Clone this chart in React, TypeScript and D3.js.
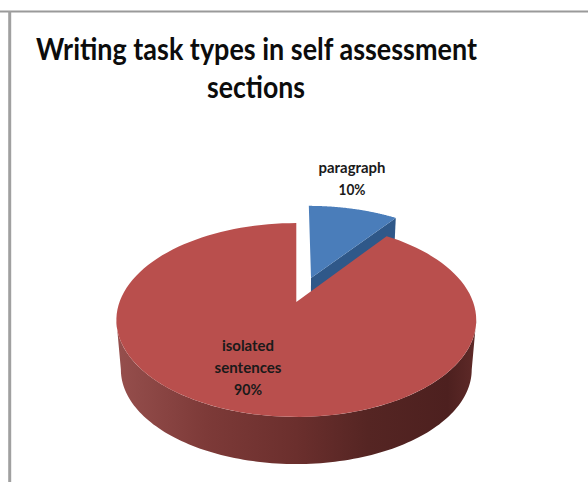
import React from "react";
import * as d3 from "d3";

const categories = ["paragraph", "isolated sentences"];
const shares = [10, 90];
const sliceLabels = [["paragraph", "10%"], ["isolated", "sentences", "90%"]];
const labelWidths = [[67, 27], [52, 67, 28]];
const titleLines = ["Writing task types in self assessment", "sections"];
const titleWidths = [441, 98];
const topColors = ["#4a7dba", "#b94f4d"];
const FONT = "Lato, 'Open Sans', sans-serif";

const W = 588, H = 482;
const cx = 296.3, cy = 302, R = 176.8, Rs = 93.6, k = 0.1856;
const explode = [0.283, 0];
const baseScale = 0.975, baseY = 352;

const arcs = d3.pie<number>().sort(null).startAngle(0).endAngle(2 * Math.PI)(shares);

type P = [number, number];
function ground(theta: number, r: number, off: number, mid: number): [number, number] {
  return [r * Math.sin(theta) + off * Math.sin(mid), r * Math.cos(theta) + off * Math.cos(mid)];
}
function top(u: number, v: number): P {
  const d = 1 + k * v;
  return [cx + (R * u) / d, cy - (Rs * v) / d];
}
function bottom(u: number, v: number): P {
  const d = 1 + k * v;
  return [cx + (baseScale * R * u) / d, baseY - (baseScale * Rs * v) / d];
}
const line = d3.line<P>();
function samples(a: number, b: number): number[] {
  return d3.range(0, 121).map((i) => d3.interpolateNumber(a, b)(i / 120));
}
function faceOf(i: number, proj: (u: number, v: number) => P): string {
  const a = arcs[i];
  const mid = (a.startAngle + a.endAngle) / 2;
  const apex = ground(0, 0, explode[i], mid);
  const pts = [proj(apex[0], apex[1]), ...samples(a.startAngle, a.endAngle).map((t) => {
    const g = ground(t, 1, explode[i], mid);
    return proj(g[0], g[1]);
  })];
  return line(pts) + "Z";
}
function blueCut(): string {
  const a = arcs[0];
  const mid = (a.startAngle + a.endAngle) / 2;
  const ap = ground(0, 0, explode[0], mid);
  const e = ground(a.endAngle, 1, explode[0], mid);
  return line([top(ap[0], ap[1]), top(e[0], e[1]), bottom(e[0], e[1]), bottom(ap[0], ap[1])]) + "Z";
}
function redWall(): string {
  const t0 = Math.acos(-k);
  const t1 = 2 * Math.PI - t0;
  const ts = samples(t0, t1);
  const upper = ts.map((t) => top(Math.sin(t), Math.cos(t)));
  const lower = ts.slice().reverse().map((t) => bottom(Math.sin(t), Math.cos(t)));
  return line([...upper, ...lower]) + "Z";
}
const wallStops: [number, string][] = [
  [0, "#5f2a28"], [0.08, "#4d201f"], [0.3, "#552523"], [0.5, "#6b2f2d"], [0.75, "#7d3a38"], [1, "#964f4d"],
];

export default function App() {
  return (
    <svg width={W} height={H} style={{ position: "fixed", left: 0, top: 0, background: "#fff" }}>
      <defs>
        <linearGradient id="wall" x1="1" x2="0" y1="0" y2="0">
          {wallStops.map(([o, c]) => <stop key={o} offset={o} stopColor={c} />)}
        </linearGradient>
      </defs>
      <line x1={0} x2={W} y1={11.5} y2={11.5} stroke="#9a9a9a" strokeWidth={2} />
      <line x1={9.7} x2={9.7} y1={11} y2={H} stroke="#a0a0a0" strokeWidth={3} />
      {titleLines.map((t, i) => (
        <text key={t} x={i === 0 ? 256.5 : 256} y={i === 0 ? 60 : 98} textAnchor="middle" fontFamily={FONT} fontWeight={700} fontSize={30} textLength={titleWidths[i]} lengthAdjust="spacingAndGlyphs" fill="#0c0c0c">{t}</text>
      ))}
      <path d={blueCut()} fill="#2f5889" />
      <path d={faceOf(0, top)} fill={topColors[0]} />
      <path d={redWall()} fill="url(#wall)" />
      <path d={faceOf(1, top)} fill={topColors[1]} />
      {sliceLabels[0].map((t, i) => (
        <text key={t} x={352} y={173 + i * 22} textAnchor="middle" fontFamily={FONT} fontWeight={700} fontSize={16} textLength={labelWidths[0][i]} lengthAdjust="spacingAndGlyphs" fill="#1a1a1a">{t}</text>
      ))}
      {sliceLabels[1].map((t, i) => (
        <text key={t} x={248} y={351 + i * 22} textAnchor="middle" fontFamily={FONT} fontWeight={700} fontSize={16} textLength={labelWidths[1][i]} lengthAdjust="spacingAndGlyphs" fill="#1a1a1a">{t}</text>
      ))}
      <title>{categories.join(", ")}</title>
    </svg>
  );
}
